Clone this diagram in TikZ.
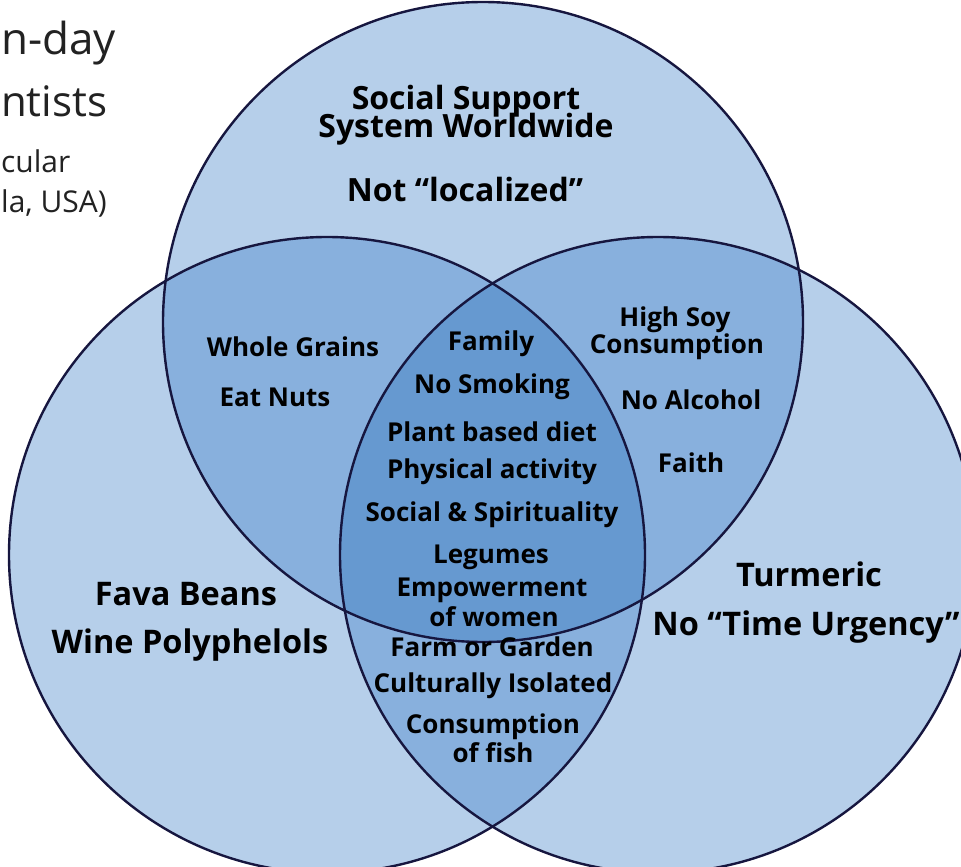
\documentclass[tikz,border=0pt]{standalone}
\usepackage{fontspec}
\setmainfont{Open Sans}
\definecolor{lightc}{HTML}{B6CFEA}
\definecolor{midc}{HTML}{88B0DD}
\definecolor{darkc}{HTML}{6699D0}
\definecolor{edgec}{HTML}{16163F}
\definecolor{greyt}{HTML}{222222}
\newcommand{\tightlines}{\lineskiplimit=-100pt\relax\lineskip=0pt\relax}
\tikzset{
  lbl/.style={inner sep=0pt, font=\bfseries\fontsize{26}{26}\selectfont, text=black},
  head/.style={inner sep=0pt, font=\bfseries\fontsize{32}{28}\selectfont\tightlines, text=black, align=center},
  big/.style={inner sep=0pt, font=\bfseries\fontsize{32.5}{32.5}\selectfont, text=black},
  side/.style={inner sep=0pt, anchor=base west, text=greyt},
  ring/.style={draw=edgec, line width=2.4pt}
}
\begin{document}
\begin{tikzpicture}[x=1pt,y=-1pt]
\useasboundingbox (0,0) rectangle (961,867);
\fill[white] (0,0) rectangle (961,867);
\coordinate (T) at (483,322);
\coordinate (L) at (327,555);
\coordinate (R) at (658,555);
\def\rT{320pt}\def\rL{318pt}\def\rR{318pt}
% base fills
\fill[lightc] (T) circle[radius=\rT];
\fill[lightc] (L) circle[radius=\rL];
\fill[lightc] (R) circle[radius=\rR];
% pairwise overlaps
\begin{scope}
  \clip (T) circle[radius=\rT];
  \fill[midc] (L) circle[radius=\rL];
  \fill[midc] (R) circle[radius=\rR];
\end{scope}
\begin{scope}
  \clip (L) circle[radius=\rL];
  \fill[midc] (R) circle[radius=\rR];
\end{scope}
% triple overlap
\begin{scope}
  \clip (T) circle[radius=\rT];
  \clip (L) circle[radius=\rL];
  \fill[darkc] (R) circle[radius=\rR];
\end{scope}
% outlines
\draw[ring] (T) circle[radius=\rT];
\draw[ring] (L) circle[radius=\rL];
\draw[ring] (R) circle[radius=\rR];

% side text at the left edge
\node[side, font=\fontsize{44}{44}\selectfont] (s1) at (1,55) {n-day};
\node[side, font=\fontsize{42}{42}\selectfont] (s2) at (1,116) {ntists};
\node[side, font=\fontsize{30}{30}\selectfont] (s3) at (1,172) {cular};
\node[side, font=\fontsize{30}{30}\selectfont] (s4) at (1,212) {la, USA)};

% top circle
\node[head] (t1) at (466,115) {Social Support\\System Worldwide};
\node[head] (t3) at (465,189) {Not “localized”};
% top-left overlap
\node[lbl] (a1) at (293,347) {Whole Grains};
\node[lbl] (a2) at (275,397) {Eat Nuts};
% top-right overlap
\node[lbl] (b1) at (675,320) {High Soy};
\node[lbl] (b2) at (677,347) {Consumption};
\node[lbl] (b3) at (691,400) {No Alcohol};
\node[lbl] (b4) at (691,463) {Faith};
% center
\node[lbl] (c1) at (491,344) {Family};
\node[lbl] (c2) at (492,387) {No Smoking};
\node[lbl] (c3) at (492,432) {Plant based diet};
\node[lbl] (c4) at (492,472) {Physical activity};
\node[lbl] (c5) at (492,515) {Social \& Spirituality};
\node[lbl] (c6) at (491,557) {Legumes};
\node[lbl] (c7) at (492,590) {Empowerment};
\node[lbl] (c8) at (494,617) {of women};
% bottom lens
\node[lbl] (d1) at (492,647) {Farm or Garden};
\node[lbl] (d2) at (493,686) {Culturally Isolated};
\node[lbl] (d3) at (493,727) {Consumption};
\node[lbl] (d4) at (493,753) {of fish};
% left
\node[big] (l1) at (186,594) {Fava Beans};
\node[big] (l2) at (190,645) {Wine Polyphelols};
% right
\node[big] (r1) at (809,574) {Turmeric};
\node[big] (r2) at (806,627) {No “Time Urgency”};
\end{tikzpicture}
\end{document}
